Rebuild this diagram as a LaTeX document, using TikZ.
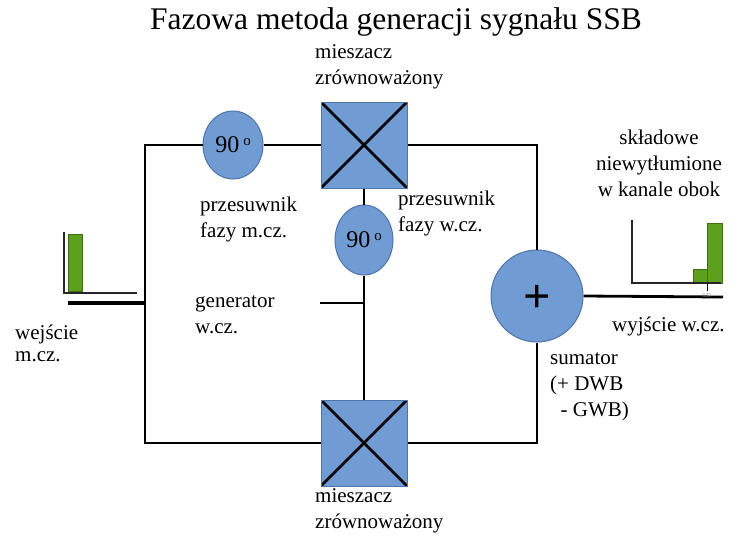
\documentclass[tikz,border=0pt]{standalone}
\usepackage{fontspec}
\setmainfont{Liberation Serif}
\usetikzlibrary{shapes.geometric}
\definecolor{boxblue}{RGB}{112,156,211}
\definecolor{boxedge}{RGB}{78,116,168}
\definecolor{bargreen}{RGB}{92,160,30}
\definecolor{baredge}{RGB}{60,110,20}
\tikzset{
  wire/.style={line width=2.8pt, black},
  mixer/.style={draw=boxedge, fill=boxblue, line width=1pt, minimum size=86pt, inner sep=0pt,
    path picture={\draw[line width=2.6pt, black] (path picture bounding box.north west) -- (path picture bounding box.south east)
      (path picture bounding box.north east) -- (path picture bounding box.south west);}},
  phase/.style={ellipse, draw=boxedge, fill=boxblue, line width=1pt, inner sep=0pt},
  lbl/.style={font=\fontsize{21}{26}\selectfont, align=left, inner sep=0pt, anchor=base west},
  axis/.style={line width=1.8pt, black!85},
  bar/.style={draw=baredge, fill=bargreen, line width=0.8pt},
}
\newcommand{\ninety}{\fontsize{24}{24}\selectfont 90\,\raisebox{7pt}{\fontsize{15}{15}\selectfont o}}
\begin{document}
\begin{tikzpicture}[x=1pt,y=-1pt]
\useasboundingbox[fill=white] (0,0) rectangle (751,535);
% title
\node[font=\fontsize{31.5}{34}\selectfont, inner sep=0pt] (title) at (396,22) {Fazowa metoda generacji sygnału SSB};
% blocks
\node[mixer] (m1) at (364,145) {};
\node[mixer] (m2) at (364,443) {};
\node[phase, minimum width=60pt, minimum height=68pt] (p1) at (233,145) {\ninety};
\node[phase, minimum width=58pt, minimum height=70pt] (p2) at (364,240) {\ninety};
\node[circle, draw=boxedge, fill=boxblue, line width=1pt, minimum size=92pt, inner sep=0pt] (s) at (537,296) {};
\node[font=\bfseries\fontsize{48}{48}\selectfont, inner sep=0pt, yshift=-3pt] (plus) at (s.center) {+};
% coordinates
\coordinate (tl) at (145,145);
\coordinate (bl) at (145,443);
\coordinate (tr) at (537,145);
\coordinate (br) at (537,443);
\coordinate (gen) at (320,303);
\coordinate (gj) at (364,303);
\coordinate (out) at (723,297);
\coordinate (in) at (68,303);
\coordinate (inj) at (145,303);
% wires
\draw[wire] (p1.west) -- (tl) -- (bl) -- (m2.west);
\draw[wire] (p1.east) -- (m1.west);
\draw[wire] (m1.east) -- (tr) -- (s.north);
\draw[wire] (s.south) -- (br) -- (m2.east);
\draw[wire] (m1.south) -- (p2.north);
\draw[wire] (p2.south) -- (m2.north);
\draw[wire] (gen) -- (gj);
\draw[wire] (s.east) -- (out);
\draw[line width=4.5pt] (in) -- (inj);
% input spectrum
\draw[axis] (64,232) -- (64,293) -- (137,293);
\draw[bar] (68,234) rectangle (82,291);
% output spectrum
\draw[bar] (693,269) rectangle (707,283);
\draw[bar] (707,223) rectangle (722,283);
\draw[axis] (632,220) -- (632,283) -- (721,283);
\draw[line width=1pt] (707,283) -- (707,291);
\node[font=\fontsize{6}{6}\selectfont, text=black!45, inner sep=0pt] (lo) at (707,296) {LO};
% labels (base = baseline of last line)
\node[lbl] (lm1) at (315,84) {mieszacz\\zrównoważony};
\node[lbl] (lm2) at (315,528) {mieszacz\\zrównoważony};
\node[lbl] (lp1) at (200,237) {przesuwnik\\fazy m.cz.};
\node[lbl] (lp2) at (398,231) {przesuwnik\\fazy w.cz.};
\node[lbl, align=center, anchor=base] (lsk) at (659,196) {składowe\\niewytłumione\\w kanale obok};
\node[lbl] (lgen) at (195,333) {generator\\w.cz.};
\node[lbl] (lin) at (15,361) {wejście\\[-4pt]m.cz.};
\node[lbl] (lout) at (612,331) {wyjście w.cz.};
\node[lbl] (lsum) at (550,416) {sumator\\(+ DWB\\\ \ - GWB)};
\end{tikzpicture}
\end{document}
